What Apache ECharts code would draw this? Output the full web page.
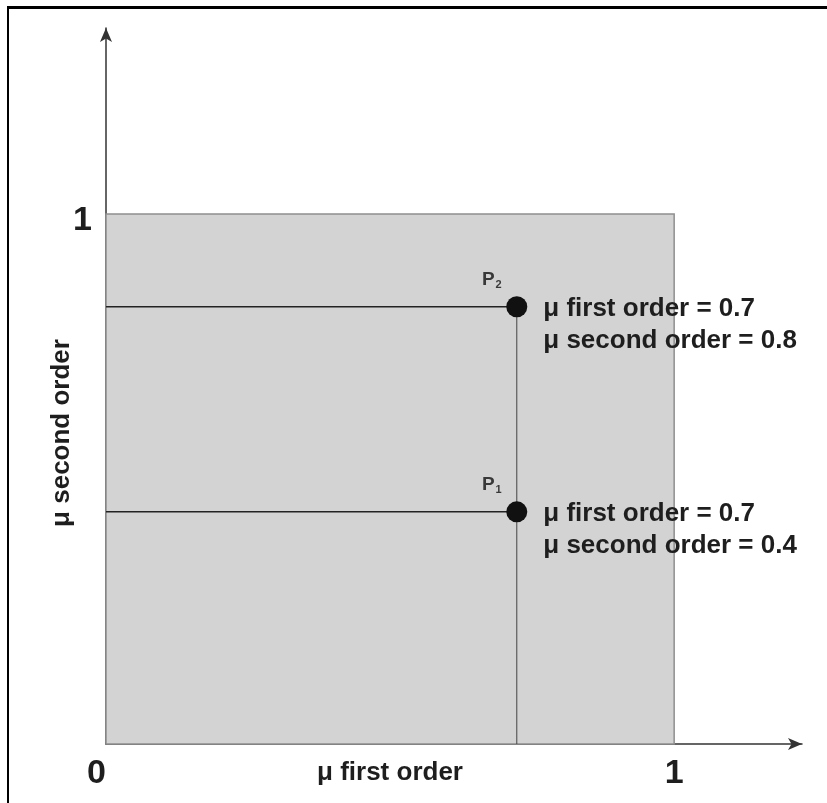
<!DOCTYPE html>
<html>
<head>
<meta charset="utf-8">
<script src="https://cdn.jsdelivr.net/npm/echarts@6/dist/echarts.min.js"></script>
<style>
  body { margin: 0; background: #fff; }
  #main { position: absolute; left: 0; top: 0; width: 827px; height: 803px; }
  #frame { position: absolute; left: 7px; top: 6px; width: 830px; height: 810px;
           border-left: 2px solid #000; border-top: 3px solid #000; pointer-events: none; }
</style>
</head>
<body>
<div id="main"></div>
<div id="frame"></div>
<script>
// tick labels
var xTicks = [0, 1];
var yTicks = [1];
// axis extents (arrow tips beyond the unit square)
var xMax = 1.225;
var yMax = 1.351;
// points as drawn
var pointNames = ["1", "2"];
var muFirst = [0.723, 0.723];
var muSecond = [0.438, 0.825];
// values printed next to the points
var statedFirst = ["0.7", "0.7"];
var statedSecond = ["0.4", "0.8"];

var FONT = "Liberation Sans";
var TXT = "#1e1e1e";

var dom = document.getElementById("main");
var myChart = echarts.init(dom, null, { renderer: "canvas" });

var points = pointNames.map(function (n, i) {
  return { value: [muFirst[i], muSecond[i]], name: n, idx: i };
});

// guide lines: horizontal from the y axis to each point, vertical from the top point down
var guideSeries = [];
pointNames.forEach(function (n, i) {
  guideSeries.push({
    type: "line",
    data: [[0, muSecond[i]], [muFirst[i], muSecond[i]]],
    symbol: "none",
    silent: true,
    z: 3,
    lineStyle: { color: "#222", width: 1.5 },
  });
});
var topIdx = muSecond.indexOf(Math.max.apply(null, muSecond));
guideSeries.push({
  type: "line",
  data: [[muFirst[topIdx], muSecond[topIdx]], [muFirst[topIdx], 0]],
  symbol: "none",
  silent: true,
  z: 3,
  lineStyle: { color: "#444", width: 1 },
});

var option = {
  animation: false,
  grid: { left: 106, right: 25, top: 28, bottom: 59, containLabel: false, outerBoundsMode: "none" },
  xAxis: {
    type: "value",
    min: 0,
    max: xMax,
    interval: 1,
    splitLine: { show: false },
    axisTick: { show: false },
    axisLine: {
      symbol: ["none", "arrow"],
      symbolSize: [9, 14],
      lineStyle: { color: "#333", width: 1.5 },
    },
    axisLabel: {
      formatter: function (v) { return xTicks.indexOf(v) >= 0 ? String(v) : ""; },
      fontFamily: FONT,
      fontWeight: "bold",
      fontSize: 34,
      color: TXT,
      margin: 13,
      alignMinLabel: "right",
    },
    name: "\u03bc first order",
    nameLocation: "middle",
    nameGap: 16,
    nameMoveOverlap: false,
    nameTextStyle: {
      fontFamily: FONT,
      fontWeight: "bold",
      fontSize: 26,
      color: TXT,
      padding: [0, 128, 0, 0],
    },
  },
  yAxis: {
    type: "value",
    min: 0,
    max: yMax,
    interval: 1,
    splitLine: { show: false },
    axisTick: { show: false },
    axisLine: {
      symbol: ["none", "arrow"],
      symbolSize: [9, 14],
      lineStyle: { color: "#333", width: 1.5 },
    },
    axisLabel: {
      formatter: function (v) { return yTicks.indexOf(v) >= 0 ? String(v) : ""; },
      fontFamily: FONT,
      fontWeight: "bold",
      fontSize: 34,
      color: TXT,
      margin: 14,
      verticalAlign: "top",
      lineHeight: 14,
    },
    name: "\u03bc second order",
    nameLocation: "middle",
    nameRotate: 90,
    nameGap: 31,
    nameMoveOverlap: false,
    nameTextStyle: {
      fontFamily: FONT,
      fontWeight: "bold",
      fontSize: 26,
      color: TXT,
      padding: [0, 94, 0, 0],
    },
  },
  series: guideSeries.concat([
    {
      type: "scatter",
      data: points,
      symbolSize: 21,
      z: 5,
      itemStyle: { color: "#111", opacity: 1 },
      markArea: {
        silent: true,
        itemStyle: { color: "#d3d3d3", borderColor: "#8f8f8f", borderWidth: 1.5 },
        data: [[{ coord: [0, 0] }, { coord: [1, 1] }]],
      },
      label: {
        show: true,
        position: "right",
        distance: 16,
        offset: [0, 18],
        align: "left",
        fontFamily: FONT,
        fontWeight: "bold",
        fontSize: 26,
        lineHeight: 32,
        color: TXT,
        formatter: function (p) {
          var i = p.data.idx;
          return "\u03bc first order = " + statedFirst[i] + "\n\u03bc second order = " + statedSecond[i];
        },
      },
    },
    {
      type: "scatter",
      data: points,
      symbolSize: 21,
      z: 6,
      silent: true,
      itemStyle: { color: "rgba(0,0,0,0)" },
      label: {
        show: true,
        position: "top",
        distance: 6,
        offset: [-25, 0],
        formatter: function (p) { return "{p|P}{s|" + p.data.name + "}"; },
        rich: {
          p: { fontFamily: FONT, fontWeight: "bold", fontSize: 19, color: "#111", lineHeight: 20, verticalAlign: "top" },
          s: { fontFamily: FONT, fontWeight: "bold", fontSize: 11, color: "#111", lineHeight: 11, verticalAlign: "bottom", padding: [0, 0, 0, 1] },
        },
      },
    },
  ]),
};

myChart.setOption(option);
window.addEventListener("resize", myChart.resize);
</script>
</body>
</html>
